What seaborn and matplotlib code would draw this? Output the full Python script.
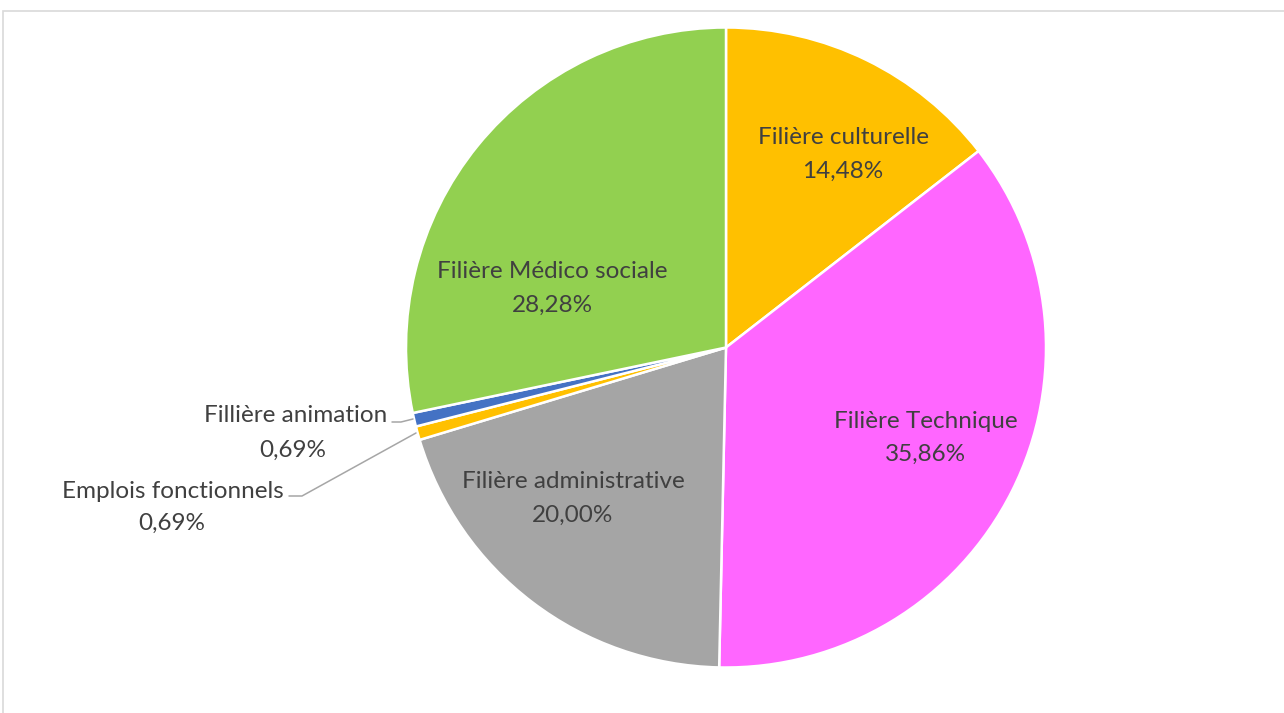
import matplotlib
matplotlib.use("Agg")
import matplotlib.pyplot as plt
import seaborn as sns
from matplotlib.patches import Rectangle

sns.set_theme(style="white")
plt.rcParams["font.family"] = ["Lato", "DejaVu Sans"]

# Répartition des effectifs par filière
categories = [
    "Filière culturelle",
    "Filière Technique",
    "Filière administrative",
    "Emplois fonctionnels",
    "Fillière animation",
    "Filière Médico sociale",
]
shares = [14.48, 35.86, 20.00, 0.69, 0.69, 28.28]
colors = ["#FFC000", "#FF66FF", "#A5A5A5", "#FFC000", "#4472C4", "#92D050"]

W, H = 1284, 713
fig = plt.figure(figsize=(W / 100, H / 100), dpi=100)
ax = fig.add_axes([0, 0, 1, 1])
ax.set_xlim(0, W)
ax.set_ylim(0, H)
ax.set_aspect("equal")
ax.axis("off")

# chart area frame
fig.patches.append(Rectangle((3 / W, -0.1), 1.1, (H - 11) / H + 0.1,
                             transform=fig.transFigure, fill=False,
                             edgecolor="#D9D9D9", linewidth=1.2))

cx, cy, r = 726, H - 347.5, 320
ax.pie(shares, colors=colors, startangle=90, counterclock=False,
       center=(cx, cy), radius=r, frame=True,
       wedgeprops=dict(edgecolor="white", linewidth=1.8))
ax.set_xlim(0, W)
ax.set_ylim(0, H)
ax.axis("off")


def pct(v):
    return f"{v:.2f}%".replace(".", ",")


txt = dict(color="#404040", fontsize=17.5, va="center")
LINE = 33  # vertical gap between name and percentage lines, px

# labels inside the slices: (center x, name line y) from top-left
inside = {0: (843, 138), 1: (926, 421), 2: (573, 482), 5: (552, 272)}
for i, (x, y) in inside.items():
    ax.text(x, H - y, categories[i], ha="center", **txt)
    ax.text(x, H - y - LINE, pct(shares[i]), ha="center", **txt)

# small slices: labels outside with leader lines
ax.text(387, H - 416, categories[4], ha="right", **txt)
ax.text(293, H - 450, pct(shares[4]), ha="center", **txt)
ax.plot([392, 401, 413], [H - 422, H - 422, H - 419],
        color="#A6A6A6", linewidth=1.1)

ax.text(284, H - 491, categories[3], ha="right", **txt)
ax.text(172, H - 523, pct(shares[3]), ha="center", **txt)
ax.plot([289, 302, 416], [H - 496, H - 496, H - 433],
        color="#A6A6A6", linewidth=1.1)

fig.savefig("out.png", dpi=100, facecolor="white")
